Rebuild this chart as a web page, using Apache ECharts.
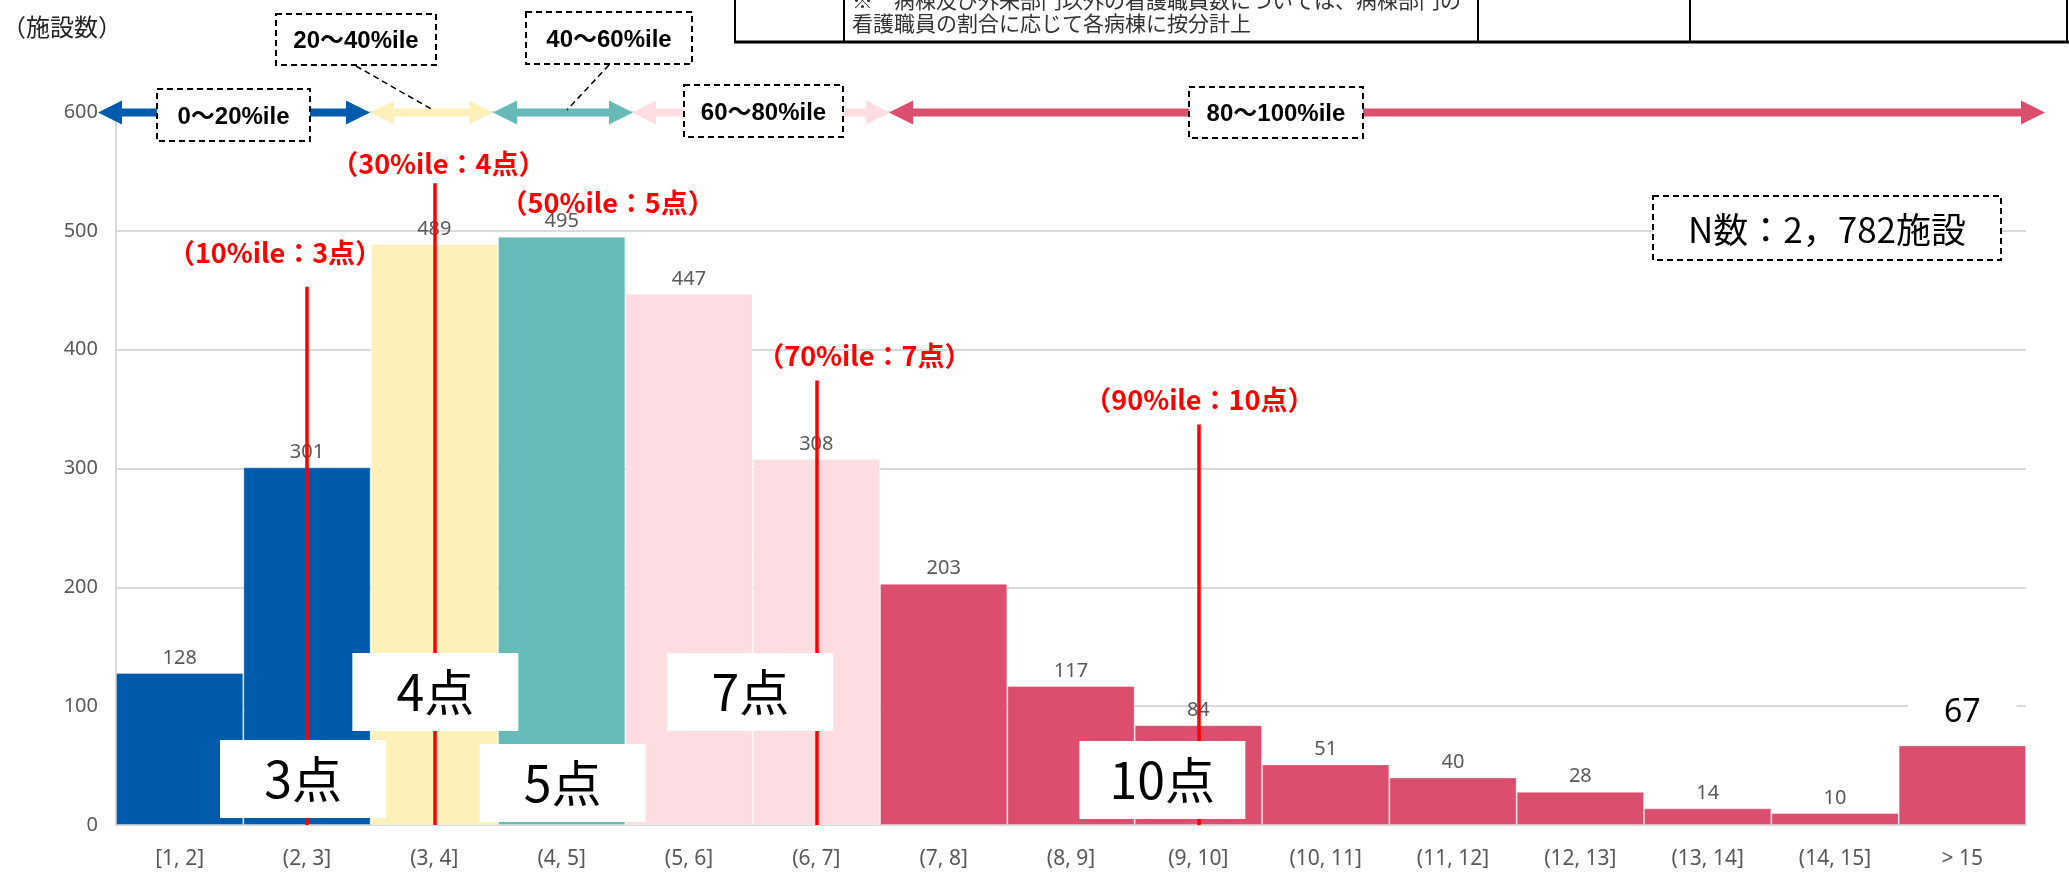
<!DOCTYPE html>
<html>
<head>
<meta charset="utf-8">
<script src="https://cdn.jsdelivr.net/npm/echarts@6/dist/echarts.min.js"></script>
<style>
html,body{margin:0;padding:0;background:#fff;}
#c{width:2069px;height:880px;}
</style>
</head>
<body>
<div id="c"></div>
<script>
// ---- data ----
const categories = ['[1, 2]','(2, 3]','(3, 4]','(4, 5]','(5, 6]','(6, 7]','(7, 8]','(8, 9]','(9, 10]','(10, 11]','(11, 12]','(12, 13]','(13, 14]','(14, 15]','> 15'];
const counts = [128, 301, 489, 495, 447, 308, 203, 117, 84, 51, 40, 28, 14, 10, 67];
const barBand = [0, 0, 1, 2, 3, 3, 4, 4, 4, 4, 4, 4, 4, 4, 4];
const bandLabels = ['0～20%ile', '20～40%ile', '40～60%ile', '60～80%ile', '80～100%ile'];
const yTicks = [0, 100, 200, 300, 400, 500, 600];
const pctLabels = ['（10%ile：3点）', '（30%ile：4点）', '（50%ile：5点）', '（70%ile：7点）', '（90%ile：10点）'];
const pctCategory = ['(2, 3]', '(3, 4]', '(4, 5]', '(6, 7]', '(9, 10]'];
const scoreLabels = ['3点', '4点', '5点', '7点', '10点'];
const scoreCategory = ['(2, 3]', '(3, 4]', '(4, 5]', '(6, 7]', '(9, 10]'];
const nLabel = 'N数：2，782施設';
const yAxisName = '（施設数）';
const noteLines = ['※　病棟及び外来部門以外の看護職員数については、病棟部門の', '看護職員の割合に応じて各病棟に按分計上'];

// ---- styling / layout ----
const bandColors = ['#005BAC', '#FCF2B9', '#66BAB7', '#FDDDE1', '#DB4E6D'];
const lineTop = [453, 540, 507, 374, 337];
const lineBottom = [0, 0, -2, 0, 0];
const pctLabelOffset = [[-32, -34], [4, -20], [46, -20], [48, -25], [1, -25]];
const scoreY = [38.7, 112, 35.3, 112, 37.9];
const scoreDX = [-4, 1, 1, -66, -36];

const chart = echarts.init(document.getElementById('c'));

const GRAY = '#595959';
const latin = '"Noto Sans", "Noto Sans CJK JP", sans-serif';
const jp = '"Noto Sans CJK JP", "Noto Sans", sans-serif';

function arrow(x1, x2, y, color) {
  const hl = 24, hh = 12, sh = 4;
  return {
    type: 'polygon', z: 20, silent: true,
    shape: { points: [[x1, y], [x1 + hl, y - hh], [x1 + hl, y - sh], [x2 - hl, y - sh], [x2 - hl, y - hh], [x2, y], [x2 - hl, y + hh], [x2 - hl, y + sh], [x1 + hl, y + sh], [x1 + hl, y + hh]] },
    style: { fill: color }
  };
}
function dashBox(x, y, w, h, text, font) {
  return [
    { type: 'rect', z: 22, silent: true, shape: { x: x, y: y, width: w, height: h },
      style: { fill: '#fff', stroke: '#000', lineWidth: 2, lineDash: [6, 4] } },
    { type: 'text', z: 23, silent: true,
      style: { text: text, x: x + w / 2, y: y + h / 2 + 2, fill: '#000', font: font, align: 'center', verticalAlign: 'middle' } }
  ];
}
function dashLine(x1, y1, x2, y2) {
  return { type: 'line', z: 21, silent: true, shape: { x1: x1, y1: y1, x2: x2, y2: y2 },
    style: { stroke: '#000', lineWidth: 1.5, lineDash: [6, 4] } };
}
function solidLine(x1, y1, x2, y2, w) {
  return { type: 'line', z: 21, silent: true, shape: { x1: x1, y1: y1, x2: x2, y2: y2 },
    style: { stroke: '#000', lineWidth: w } };
}

const boxFont = 'bold 24px "Liberation Sans", "Noto Sans CJK JP", sans-serif';
const ay = 112.5;
const graphics = [].concat(
  [
    { type: 'text', z: 20, silent: true, style: { text: yAxisName, x: 2, y: 27, fill: '#222', font: '24px ' + jp, verticalAlign: 'middle' } },
    // table fragment
    solidLine(735, -5, 735, 42, 2), solidLine(844, -5, 844, 42, 2), solidLine(1478, -5, 1478, 42, 2),
    solidLine(1690, -5, 1690, 42, 2), solidLine(2067, -5, 2067, 42, 2), solidLine(734, 42, 2069, 42, 3),
    { type: 'text', z: 20, silent: true, style: { text: noteLines[0], x: 852, y: 0, fill: '#333', font: '21px ' + jp, verticalAlign: 'middle' } },
    { type: 'text', z: 20, silent: true, style: { text: noteLines[1], x: 852, y: 23, fill: '#333', font: '21px ' + jp, verticalAlign: 'middle' } },
    // arrows
    arrow(98, 370, ay, bandColors[0]),
    arrow(370, 493, ay, bandColors[1]),
    arrow(493, 633, ay, bandColors[2]),
    arrow(632, 890, ay, bandColors[3]),
    arrow(889, 2045, ay, bandColors[4]),
    dashLine(356, 66, 433, 110),
    dashLine(609, 65, 567, 110)
  ],
  dashBox(157, 89, 153, 52, bandLabels[0], boxFont),
  dashBox(276, 14, 160, 51, bandLabels[1], boxFont),
  dashBox(526, 12, 166, 52, bandLabels[2], boxFont),
  dashBox(684, 85, 159, 52, bandLabels[3], boxFont),
  dashBox(1189, 87, 174, 51, bandLabels[4], boxFont),
  dashBox(1653, 196, 348, 64, nLabel, '35px ' + jp)
);

const barData = counts.map(function (v, i) {
  const item = { value: v, itemStyle: { color: bandColors[barBand[i]] } };
  if (i === counts.length - 1) {
    item.label = { color: '#000', fontSize: 32, backgroundColor: '#fff', padding: [4, 36, 4, 36], distance: 12 };
  }
  return item;
});

const markLineData = pctCategory.map(function (c, i) {
  return [{ coord: [c, lineBottom[i]] }, { coord: [c, lineTop[i]] }];
});

const markPointData = [];
pctCategory.forEach(function (c, i) {
  markPointData.push({
    coord: [c, lineTop[i]], symbol: 'rect', symbolSize: 1, itemStyle: { color: 'rgba(0,0,0,0)' },
    label: { show: true, formatter: pctLabels[i], color: '#FF0000', fontSize: 27, fontWeight: 'bold', fontFamily: jp, offset: pctLabelOffset[i] }
  });
});
scoreCategory.forEach(function (c, i) {
  markPointData.push({
    coord: [c, scoreY[i]], symbol: 'rect', symbolSize: [166, 78], symbolOffset: [scoreDX[i], 0],
    itemStyle: { color: '#fff' },
    label: { show: true, formatter: scoreLabels[i], color: '#000', fontSize: 50, fontFamily: jp, position: 'inside' }
  });
});

chart.setOption({
  animation: false,
  grid: { left: 116, right: 43, top: 112, bottom: 55, containLabel: false },
  xAxis: {
    type: 'category', data: categories, boundaryGap: true,
    axisTick: { show: false },
    axisLine: { show: true, lineStyle: { color: '#d9d9d9', width: 2 } },
    axisLabel: { color: GRAY, fontSize: 21, fontFamily: latin, margin: 24 }
  },
  yAxis: {
    type: 'value', min: yTicks[0], max: yTicks[yTicks.length - 1], interval: yTicks[1] - yTicks[0],
    axisLine: { show: true, lineStyle: { color: '#d9d9d9', width: 2 } },
    axisTick: { show: false },
    splitLine: { lineStyle: { color: '#d9d9d9', width: 2 } },
    axisLabel: { color: GRAY, fontSize: 20, fontFamily: latin, margin: 18 }
  },
  series: [{
    type: 'bar', data: barData, barCategoryGap: '0%', barGap: '0%',
    itemStyle: { borderColor: 'rgba(255,255,255,0.35)', borderWidth: 1 },
    label: { show: true, position: 'top', distance: 5, color: GRAY, fontSize: 20, fontFamily: latin },
    markLine: {
      silent: true, z: 4, symbol: ['none', 'none'],
      lineStyle: { color: '#FF0000', width: 3.5, type: 'solid' },
      label: { show: false }, data: markLineData
    },
    markPoint: { silent: true, z: 6, data: markPointData }
  }],
  graphic: { elements: graphics }
});
</script>
</body>
</html>
